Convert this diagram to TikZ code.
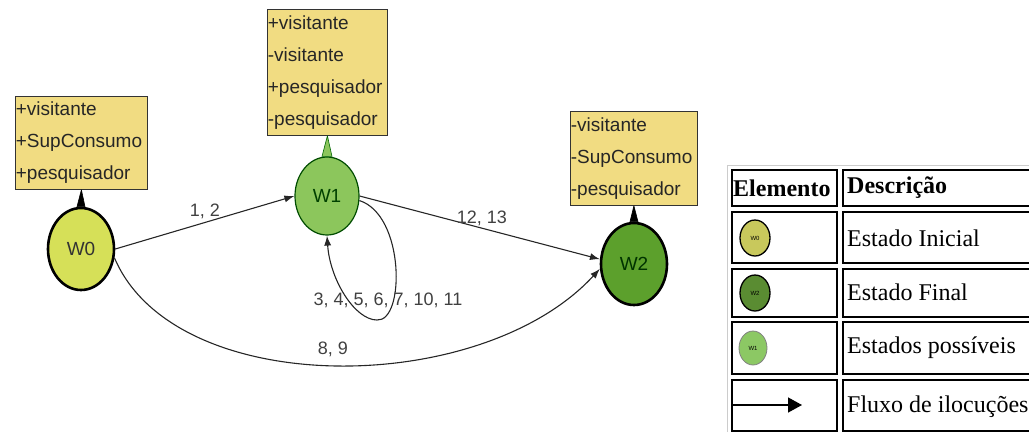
\documentclass[tikz,border=0pt]{standalone}
\usepackage{fontspec}
\setmainfont{Liberation Serif}
\setsansfont{Liberation Sans}
\usetikzlibrary{arrows.meta, shapes.geometric, calc}
\definecolor{notey}{RGB}{241,220,130}
\definecolor{cini}{RGB}{214,224,88}
\definecolor{cposs}{RGB}{140,198,92}
\definecolor{cfin}{RGB}{92,160,44}
\definecolor{lini}{RGB}{200,200,92}
\definecolor{lposs}{RGB}{140,200,100}
\definecolor{lfin}{RGB}{90,140,50}
\tikzset{
  st/.style={ellipse, minimum width=66pt, minimum height=82pt, inner sep=0pt, font=\sffamily\fontsize{19}{22}\selectfont},
  sini/.style={st, draw=black, line width=2.6pt, fill=cini, text=black!80},
  sposs/.style={st, draw=black!70!green, line width=1.2pt, fill=cposs, text=green!25!black, minimum width=64pt, minimum height=78pt},
  sfin/.style={st, draw=black, line width=2.6pt, fill=cfin, text=green!20!black},
  nota/.style={draw=black!80, line width=0.8pt, fill=notey, align=left, inner xsep=0.5pt, inner ysep=0pt, font=\sffamily\fontsize{19}{32}\selectfont, text=black!85, anchor=north west},
  ptr/.style={fill=black, draw=black, line width=0.6pt, line join=round},
  flx/.style={-{Latex[length=10pt,width=7pt]}, line width=1.1pt, draw=black!85},
  elab/.style={font=\sffamily\fontsize{18}{20}\selectfont, text=black!75, inner sep=1pt},
  cel/.style={draw=black, line width=1.6pt},
  ltx/.style={font=\fontsize{24}{28}\selectfont, anchor=west, inner sep=0pt},
  lst/.style={ellipse, minimum width=30pt, minimum height=36pt, inner sep=0pt, font=\sffamily\fontsize{6}{7}\selectfont}
}
\begin{document}
\begin{tikzpicture}[x=1pt, y=-1pt]
		\useasboundingbox (0,0) rectangle (1029,432);
		\node[nota, text width=131pt, minimum height=93pt] (n0) at (15,96) {+visitante\\+SupConsumo\\+pesquisador};
		\node[nota, text width=119pt, minimum height=126pt] (n1) at (267,9) {+visitante\\-visitante\\+pesquisador\\-pesquisador};
		\node[nota, text width=126pt, minimum height=94pt] (n2) at (570,111) {-visitante\\-SupConsumo\\-pesquisador};
		\node[sini] (W0) at (81,249) {W0};
		\node[sposs] (W1) at (327,196) {W1};
		\node[sfin] (W2) at (634,264) {W2};
		\filldraw[ptr] (n0.south) -- ([xshift=-4pt]W0.north) -- ([xshift=4pt]W0.north) -- cycle;
		\filldraw[ptr, fill=cposs, draw=black!60!green] (n1.south) -- ([xshift=-5pt]W1.north) -- ([xshift=5pt]W1.north) -- cycle;
		\filldraw[ptr] (n2.south) -- ([xshift=-4pt]W2.north) -- ([xshift=4pt]W2.north) -- cycle;
		\coordinate (lp) at (377,320);
		\draw[flx] (W0.east) -- (W1.west);
		\draw[flx] (W1.east) -- (W2.172);
		\draw[flx] (W1.-8) .. controls (405,215) and (405,322) .. (lp) .. controls (355,320) and (330,280) .. (W1.south);
		\draw[flx] (W0.-15) .. controls (175,400) and (481,398) .. (W2.188);
		\node[elab] (l12) at (205,211) {1, 2};
		\node[elab] (l1213) at (482,218) {12, 13};
		\node[elab] (lloop) at (388,300) {3, 4, 5, 6, 7, 10, 11};
		\node[elab] (l89) at (333,349) {8, 9};
		\draw[gray!40, line width=1pt] (727,432) -- (727,165) -- (1029,165);
		\foreach \ya/\yb in {170/206, 212/263, 269/317, 322/374, 380/431} {
			\draw[cel] (732,\ya) rectangle (837,\yb);
			\draw[cel] (843,\ya) rectangle (1045,\yb);
		}
		\node[ltx, font=\bfseries\fontsize{24}{28}\selectfont] (h1) at (733,188) {Elemento};
		\node[ltx, font=\bfseries\fontsize{24}{28}\selectfont] (h2) at (847,188) {Descrição};
		\node[lst, draw=black, line width=1.3pt, fill=lini] (k0) at (755,238) {W0};
		\node[lst, draw=black, line width=1.3pt, fill=lfin] (k2) at (755,293) {W2};
		\node[lst, draw=black!50, line width=0.8pt, fill=lposs, minimum width=28pt, minimum height=34pt] (k1) at (753,348) {W1};
		\coordinate (a0) at (733,405);
		\coordinate (a1) at (802,405);
		\draw[-{Triangle[length=14pt,width=15pt]}, line width=1.4pt] (a0) -- (a1);
		\node[ltx] (t1) at (847,238) {Estado Inicial};
		\node[ltx] (t2) at (847,292) {Estado Final};
		\node[ltx] (t3) at (847,348) {Estados possíveis};
		\node[ltx] (t4) at (847,407) {Fluxo de ilocuções};
	\end{tikzpicture}
\end{document}
